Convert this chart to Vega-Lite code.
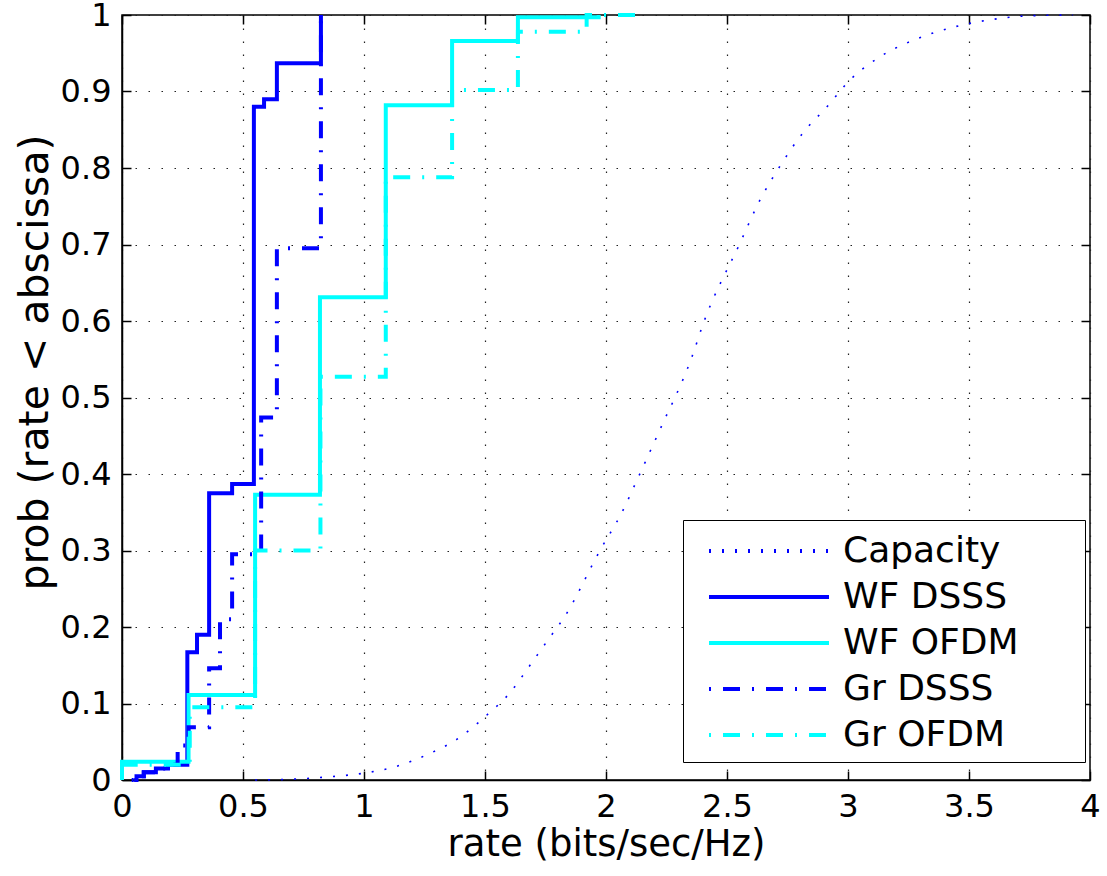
{
  "$schema": "https://vega.github.io/schema/vega-lite/v6.json",
  "width": 968,
  "height": 765,
  "autosize": {"type": "none"},
  "padding": {"left": 122, "top": 15, "right": 17, "bottom": 96},
  "background": "white",
  "datasets": {
    "cap": [
      {"series": "Capacity", "x": 0.55, "y": 0},
      {"series": "Capacity", "x": 0.7, "y": 0.001},
      {"series": "Capacity", "x": 0.85, "y": 0.004},
      {"series": "Capacity", "x": 1.0, "y": 0.009},
      {"series": "Capacity", "x": 1.136, "y": 0.018},
      {"series": "Capacity", "x": 1.26, "y": 0.033},
      {"series": "Capacity", "x": 1.397, "y": 0.056},
      {"series": "Capacity", "x": 1.508, "y": 0.085},
      {"series": "Capacity", "x": 1.603, "y": 0.114},
      {"series": "Capacity", "x": 1.686, "y": 0.15},
      {"series": "Capacity", "x": 1.76, "y": 0.183},
      {"series": "Capacity", "x": 1.83, "y": 0.214},
      {"series": "Capacity", "x": 1.975, "y": 0.3},
      {"series": "Capacity", "x": 2.066, "y": 0.35},
      {"series": "Capacity", "x": 2.128, "y": 0.392},
      {"series": "Capacity", "x": 2.19, "y": 0.435},
      {"series": "Capacity", "x": 2.252, "y": 0.478},
      {"series": "Capacity", "x": 2.285, "y": 0.5},
      {"series": "Capacity", "x": 2.355, "y": 0.553},
      {"series": "Capacity", "x": 2.4, "y": 0.595},
      {"series": "Capacity", "x": 2.554, "y": 0.702},
      {"series": "Capacity", "x": 2.636, "y": 0.758},
      {"series": "Capacity", "x": 2.72, "y": 0.803},
      {"series": "Capacity", "x": 2.814, "y": 0.846},
      {"series": "Capacity", "x": 2.913, "y": 0.88},
      {"series": "Capacity", "x": 3.008, "y": 0.915},
      {"series": "Capacity", "x": 3.12, "y": 0.943},
      {"series": "Capacity", "x": 3.27, "y": 0.967},
      {"series": "Capacity", "x": 3.434, "y": 0.984},
      {"series": "Capacity", "x": 3.616, "y": 0.995},
      {"series": "Capacity", "x": 3.75, "y": 0.999},
      {"series": "Capacity", "x": 3.93, "y": 1.0}
    ],
    "steps": [
      {"series": "WF DSSS", "x": 0.05, "y": 0},
      {"series": "WF DSSS", "x": 0.06, "y": 0.005},
      {"series": "WF DSSS", "x": 0.09, "y": 0.01},
      {"series": "WF DSSS", "x": 0.14, "y": 0.015},
      {"series": "WF DSSS", "x": 0.19, "y": 0.02},
      {"series": "WF DSSS", "x": 0.27, "y": 0.167},
      {"series": "WF DSSS", "x": 0.31, "y": 0.19},
      {"series": "WF DSSS", "x": 0.36, "y": 0.375},
      {"series": "WF DSSS", "x": 0.455, "y": 0.387},
      {"series": "WF DSSS", "x": 0.545, "y": 0.88},
      {"series": "WF DSSS", "x": 0.587, "y": 0.89},
      {"series": "WF DSSS", "x": 0.64, "y": 0.937},
      {"series": "WF DSSS", "x": 0.822, "y": 1.0},
      {"series": "WF OFDM", "x": 0, "y": 0},
      {"series": "WF OFDM", "x": 0, "y": 0.024},
      {"series": "WF OFDM", "x": 0.275, "y": 0.111},
      {"series": "WF OFDM", "x": 0.55, "y": 0.373},
      {"series": "WF OFDM", "x": 0.818, "y": 0.631},
      {"series": "WF OFDM", "x": 1.09, "y": 0.882},
      {"series": "WF OFDM", "x": 1.364, "y": 0.966},
      {"series": "WF OFDM", "x": 1.636, "y": 0.997},
      {"series": "WF OFDM", "x": 1.97, "y": 1.0},
      {"series": "Gr DSSS", "x": 0.04, "y": 0},
      {"series": "Gr DSSS", "x": 0.05, "y": 0.005},
      {"series": "Gr DSSS", "x": 0.09, "y": 0.01},
      {"series": "Gr DSSS", "x": 0.14, "y": 0.015},
      {"series": "Gr DSSS", "x": 0.19, "y": 0.02},
      {"series": "Gr DSSS", "x": 0.23, "y": 0.045},
      {"series": "Gr DSSS", "x": 0.275, "y": 0.069},
      {"series": "Gr DSSS", "x": 0.36, "y": 0.146},
      {"series": "Gr DSSS", "x": 0.405, "y": 0.21},
      {"series": "Gr DSSS", "x": 0.455, "y": 0.295},
      {"series": "Gr DSSS", "x": 0.575, "y": 0.474},
      {"series": "Gr DSSS", "x": 0.64, "y": 0.695},
      {"series": "Gr DSSS", "x": 0.822, "y": 1.0},
      {"series": "Gr OFDM", "x": 0, "y": 0},
      {"series": "Gr OFDM", "x": 0, "y": 0.02},
      {"series": "Gr OFDM", "x": 0.28, "y": 0.095},
      {"series": "Gr OFDM", "x": 0.55, "y": 0.3},
      {"series": "Gr OFDM", "x": 0.82, "y": 0.527},
      {"series": "Gr OFDM", "x": 1.09, "y": 0.788},
      {"series": "Gr OFDM", "x": 1.364, "y": 0.902},
      {"series": "Gr OFDM", "x": 1.636, "y": 0.978},
      {"series": "Gr OFDM", "x": 1.92, "y": 1.0},
      {"series": "Gr OFDM", "x": 2.16, "y": 1.0}
    ]
  },
  "layer": [
    {
      "data": {"name": "cap"},
      "mark": {"type": "line", "strokeOpacity": 0},
      "encoding": {
        "x": {"field": "x", "type": "quantitative", "scale": {"domain": [0, 4], "nice": false, "zero": false},
          "axis": {"orient": "top", "labels": false, "grid": false, "title": null, "values": [0, 0.5, 1, 1.5, 2, 2.5, 3, 3.5, 4], "tickSize": -9, "domain": false}},
        "y": {"field": "y", "type": "quantitative", "scale": {"domain": [0, 1], "nice": false, "zero": false},
          "axis": {"orient": "right", "labels": false, "grid": false, "title": null, "values": [0, 0.1, 0.2, 0.3, 0.4, 0.5, 0.6, 0.7, 0.8, 0.9, 1], "tickSize": -9, "domain": false}}
      }
    },
    {
      "data": {"name": "cap"},
      "mark": {"type": "line", "interpolate": "monotone", "strokeWidth": 1.6},
      "encoding": {
        "x": {"field": "x", "type": "quantitative",
          "axis": {"orient": "bottom", "title": "rate (bits/sec/Hz)", "titleFontSize": 37, "values": [0, 0.5, 1, 1.5, 2, 2.5, 3, 3.5, 4], "format": "~g", "grid": true, "tickSize": -9, "labelFlush": false}},
        "y": {"field": "y", "type": "quantitative",
          "axis": {"orient": "left", "title": "prob (rate < abscissa)", "titleFontSize": 41, "titleY": 347, "values": [0, 0.1, 0.2, 0.3, 0.4, 0.5, 0.6, 0.7, 0.8, 0.9, 1], "format": "~g", "grid": true, "tickSize": -9, "labelFlush": false}},
        "color": {"field": "series", "type": "nominal", "scale": {"domain": ["Capacity", "WF DSSS", "WF OFDM", "Gr DSSS", "Gr OFDM"], "range": ["#0000ff", "#0000ff", "#00ffff", "#0000ff", "#00ffff"]},
          "legend": {"title": null, "labelLimit": 500, "labelExpr": "datum.label + '\u00a0\u00a0\u00a0\u00a0\u00a0\u200b'"}},
        "strokeDash": {"field": "series", "type": "nominal", "scale": {"domain": ["Capacity", "WF DSSS", "WF OFDM", "Gr DSSS", "Gr OFDM"], "range": [[2, 11], [1, 0], [1, 0], [2, 12, 17, 12], [2, 12, 17, 12]]},
          "legend": {"title": null, "labelLimit": 500, "labelExpr": "datum.label + '\u00a0\u00a0\u00a0\u00a0\u00a0\u200b'"}},
        "order": {"value": null}
      }
    },
    {
      "data": {"name": "steps"},
      "mark": {"type": "line", "interpolate": "step-after", "strokeWidth": 4},
      "encoding": {
        "x": {"field": "x", "type": "quantitative", "axis": null},
        "y": {"field": "y", "type": "quantitative", "axis": null},
        "color": {"field": "series", "type": "nominal"},
        "strokeDash": {"field": "series", "type": "nominal"},
        "order": {"value": null}
      }
    }
  ],
  "config": {
    "view": {"stroke": "black", "strokeWidth": 1.5},
    "axis": {
      "labelFont": "DejaVu Sans",
      "labelFontSize": 32,
      "labelColor": "black",
      "titleFont": "DejaVu Sans",
      "titleFontWeight": "normal",
      "titleColor": "black",
      "domainColor": "black",
      "domainWidth": 1.5,
      "tickColor": "black",
      "tickWidth": 1.5,
      "gridColor": "#222",
      "gridDash": [1.5, 11.5],
      "gridWidth": 1.2,
      "gridOpacity": 1,
      "labelPadding": 20
    },
    "legend": {
      "orient": "none",
      "legendX": 561,
      "legendY": 505,
      "symbolType": "M-0.25,0H5.75",
      "symbolSize": 1600,
      "symbolStrokeWidth": 4,
      "labelFont": "DejaVu Sans",
      "labelFontSize": 36,
      "labelColor": "black",
      "labelOffset": 107,
      "labelLimit": 500,
      "rowPadding": 6,
      "strokeColor": "black",
      "fillColor": "white",
      "padding": 9
    }
  }
}
